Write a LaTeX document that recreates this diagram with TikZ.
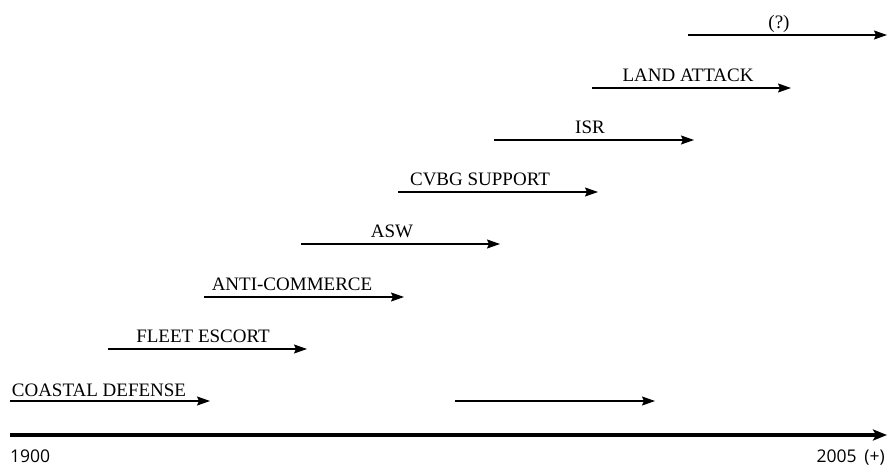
\documentclass[tikz,border=0pt]{standalone}
\usepackage{fontspec}
\setmainfont{Liberation Serif}
\newfontfamily\axisfont{Open Sans}
\usetikzlibrary{arrows.meta}
\begin{document}
\begin{tikzpicture}[x=1pt,y=-1pt,
  era/.style={line width=1.4pt,-{Stealth[length=13pt,width=9pt,inset=2pt]}},
  lbl/.style={font=\fontsize{19}{19}\selectfont,inner sep=0pt,anchor=base},
  axl/.style={font=\axisfont\fontsize{17.5}{17.5}\selectfont,inner sep=0pt,anchor=base}]
\useasboundingbox (0,0) rectangle (887,465);
% arrows
\coordinate (q0) at (688,35);   \coordinate (q1) at (887,35);
\coordinate (l0) at (592,88);   \coordinate (l1) at (791,88);
\coordinate (i0) at (494,140);  \coordinate (i1) at (694,140);
\coordinate (c0) at (398,192);  \coordinate (c1) at (598,192);
\coordinate (a0) at (301,244);  \coordinate (a1) at (500,244);
\coordinate (m0) at (204,297);  \coordinate (m1) at (404,297);
\coordinate (f0) at (108,349);  \coordinate (f1) at (307,349);
\coordinate (d0) at (10,401);   \coordinate (d1) at (210,401);
\coordinate (u0) at (455,401);  \coordinate (u1) at (655,401);
\coordinate (x0) at (10,435);   \coordinate (x1) at (887,435);
\foreach \p in {q,l,i,c,a,m,f,d,u} \draw[era] (\p0) -- (\p1);
\draw[line width=4pt,-{Stealth[length=14pt,width=11pt,inset=3pt]}] (x0) -- (x1);
% labels
\node[lbl] (tq) at (779,29) {(?)};
\node[lbl] (tl) at (688,82) {LAND ATTACK};
\node[lbl] (ti) at (590,134) {ISR};
\node[lbl] (tc) at (480,186) {CVBG SUPPORT};
\node[lbl] (ta) at (392,238) {ASW};
\node[lbl] (tm) at (292,291) {ANTI-COMMERCE};
\node[lbl] (tf) at (203,343) {FLEET ESCORT};
\node[lbl] (td) at (99,396) {COASTAL DEFENSE};
\node[axl,anchor=base west] (y0) at (10,462) {1900};
\node[axl,anchor=base east] (y1) at (885,462) {2005\hspace{0.45em}(+)};
\end{tikzpicture}
\end{document}
